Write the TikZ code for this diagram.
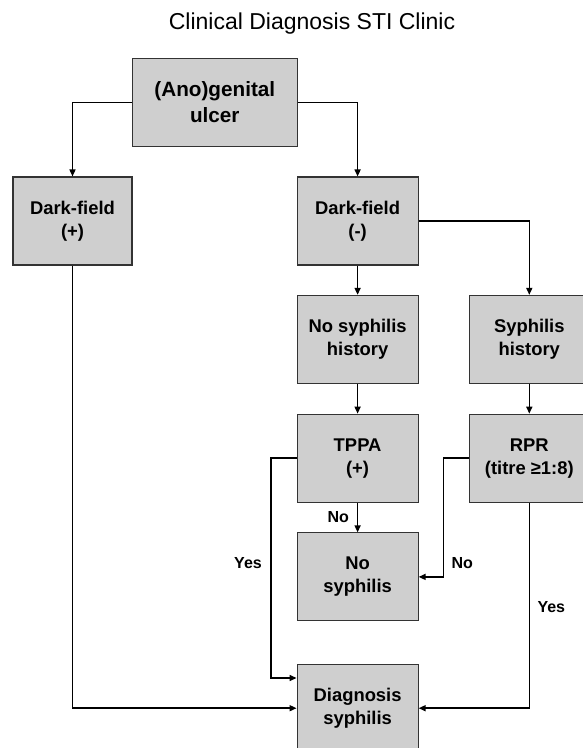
\documentclass[tikz,border=0pt]{standalone}
\usepackage{fontspec}
\setmainfont{Liberation Sans}
\usetikzlibrary{arrows.meta}
\begin{document}
\begin{tikzpicture}[x=1pt,y=-1pt,
  box/.style={draw=black!80, line width=1.1pt, fill=black!19, rectangle,
    minimum height=88pt, inner sep=0pt, align=center,
    font=\bfseries\fontsize{18.4}{23}\selectfont},
  conn/.style={draw=black, line width=1.5pt, -{Triangle[length=7pt,width=6pt]}},
  lbl/.style={font=\bfseries\fontsize{16}{19}\selectfont, inner sep=0pt}]
\useasboundingbox (0,0) rectangle (583,748);
\clip (0,0) rectangle (583,748);
\fill[white] (0,0) rectangle (583,748);
\node (title) at (312,24) {\fontsize{23}{27}\selectfont Clinical Diagnosis STI Clinic};
\node[box, minimum width=165.5pt, font=\bfseries\fontsize{20.7}{26}\selectfont] (ano) at (214.8,102.5) {(Ano)genital\\ulcer};
\node[box, minimum width=119pt] (dfp) at (72.5,221) {Dark-field\\(+)};
\node[box, minimum width=121pt] (dfm) at (357.6,221) {Dark-field\\(-)};
\node[box, minimum width=121pt] (nsh) at (357.6,339.4) {No syphilis\\history};
\node[box, minimum width=120pt] (sh) at (529.3,339.4) {Syphilis\\history};
\node[box, minimum width=121pt] (tppa) at (357.6,458.2) {TPPA\\(+)};
\node[box, minimum width=120pt] (rpr) at (529.3,458.2) {RPR\\(titre ≥1:8)};
\node[box, minimum width=121pt] (nos) at (357.6,576.9) {No\\syphilis};
\node[box, minimum width=121pt] (diag) at (357.6,708.2) {Diagnosis\\syphilis};
\coordinate (ty1) at (271,458.2);
\coordinate (ty2) at (271,678);
\coordinate (dtop) at (diag.west |- ty2);
\coordinate (rn1) at (443.3,458.2);
\coordinate (rn2) at (443.3,576.9);
\draw[conn] (ano.west) -| (dfp.north);
\draw[conn] (ano.east) -| (dfm.north);
\draw[conn] (dfp.south) |- (diag.west);
\draw[conn] (dfm.south) -- (nsh.north);
\draw[conn] (dfm.east) -| (sh.north);
\draw[conn] (nsh.south) -- (tppa.north);
\draw[conn] (sh.south) -- (rpr.north);
\draw[conn] (tppa.south) -- (nos.north);
\draw[conn] (tppa.west) -- (ty1) -- (ty2) -- (dtop);
\draw[conn] (rpr.west) -- (rn1) -- (rn2) -- (nos.east);
\draw[conn] (rpr.south) |- (diag.east);
\node[lbl] (l1) at (338.3,516.7) {No};
\node[lbl] (l2) at (248,563.3) {Yes};
\node[lbl] (l3) at (462.2,563.3) {No};
\node[lbl] (l4) at (551.3,606.7) {Yes};
\end{tikzpicture}
\end{document}
